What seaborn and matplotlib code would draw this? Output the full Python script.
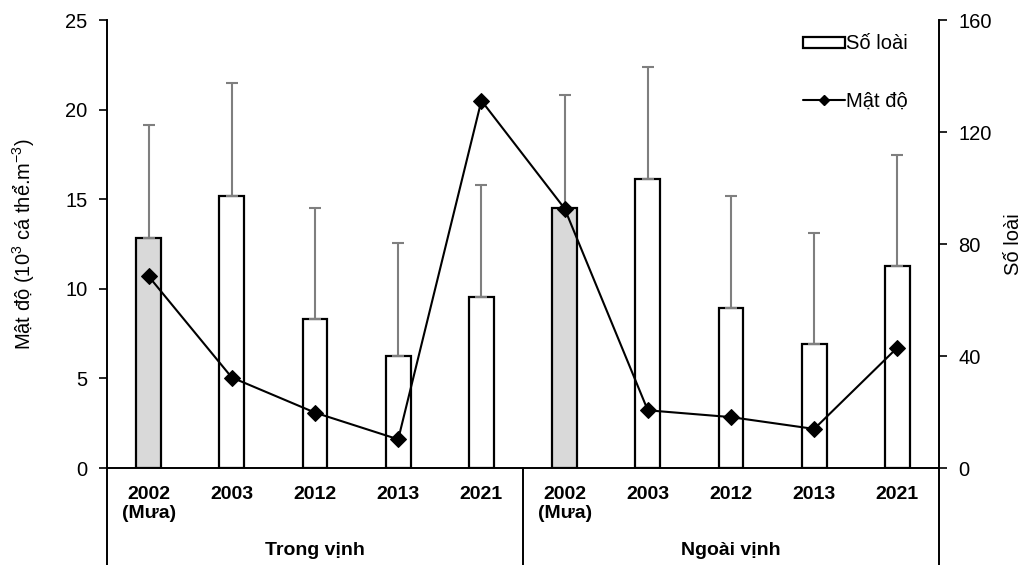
import numpy as np
import pandas as pd
import matplotlib
matplotlib.use("Agg")
import matplotlib.pyplot as plt
import seaborn as sns
from matplotlib.patches import Patch
from matplotlib.lines import Line2D

# ---- data ----
groups = ["Trong vịnh", "Ngoài vịnh"]
years = ["2002\n(Mưa)", "2003", "2012", "2013", "2021"]
so_loai_trong = [82.3, 97.2, 53.2, 40.1, 61.0]
so_loai_ngoai = [93.0, 103.3, 57.1, 44.2, 72.0]
so_loai_err_trong = [40.1, 40.2, 39.8, 40.1, 40.0]
so_loai_err_ngoai = [40.3, 39.9, 40.1, 39.9, 39.9]
mat_do_trong = [10.7, 5.05, 3.09, 1.6, 20.5]
mat_do_ngoai = [14.48, 3.22, 2.84, 2.18, 6.72]

sns.set_theme(style="white")
plt.rcParams["font.family"] = ["Liberation Sans", "DejaVu Sans"]
plt.rcParams["mathtext.fontset"] = "custom"
plt.rcParams["mathtext.rm"] = "Liberation Sans"
plt.rcParams["mathtext.it"] = "Liberation Sans"
plt.rcParams["mathtext.default"] = "regular"
plt.rcParams["text.color"] = "black"
plt.rcParams["axes.labelcolor"] = "black"

FS = 14.5

keys = [f"{g} {y}" for g in groups for y in years]
labels = years + years
so_loai = so_loai_trong + so_loai_ngoai
so_loai_err = so_loai_err_trong + so_loai_err_ngoai
mat_do = mat_do_trong + mat_do_ngoai
df = pd.DataFrame({"key": keys, "so_loai": so_loai, "err": so_loai_err,
                   "mat_do": mat_do, "pos": np.arange(len(keys))})
colors = {k: ("#d9d9d9" if k.endswith("(Mưa)") else "white") for k in keys}

fig = plt.figure(figsize=(10.28, 5.65), dpi=100)
ax = fig.add_axes([107/1028, 1-468/565, (939-107)/1028, (468-20)/565])
ax2 = ax.twinx()

# bars on right axis (Số loài)
sns.barplot(data=df, x="key", y="so_loai", hue="key", order=keys, palette=colors,
            legend=False, edgecolor="black", linewidth=1.6, width=0.3, ax=ax2,
            errorbar=None)
ax2.errorbar(df["pos"], df["so_loai"], yerr=[np.zeros(len(df)), df["err"]],
             fmt="none", ecolor="#7f7f7f", elinewidth=1.5, capsize=4, capthick=1.5,
             zorder=1)
# line on left axis (Mật độ)
sns.lineplot(data=df, x="pos", y="mat_do", ax=ax, color="black", linewidth=1.5,
             marker="D", markersize=8, markeredgecolor="black", zorder=5)

ax.set_zorder(ax2.get_zorder() + 1)
ax.patch.set_visible(False)

ax.set_xlim(-0.5, len(keys) - 0.5)
ax2.set_xlim(-0.5, len(keys) - 0.5)
ax.set_ylim(0, 25)
ax2.set_ylim(0, 160)
ax.set_yticks(np.arange(0, 26, 5))
ax2.set_yticks(np.arange(0, 161, 40))
ax.set_xticks(np.arange(len(keys)))
ax.set_xticklabels(labels, fontweight="bold", fontsize=FS - 0.5, linespacing=1.15)
ax.tick_params(axis="x", length=0, pad=13, colors="black")
ax.tick_params(axis="y", direction="out", length=6, width=1.2, labelsize=FS,
               left=True, colors="black", pad=8)
ax2.tick_params(axis="y", direction="out", length=6, width=1.2, labelsize=FS,
                right=True, colors="black", pad=8)
ax2.set_xlabel("")
ax.set_xlabel("")
ax.set_ylabel("Mật độ (10$^3$ cá thể.m$^{-3}$)", fontsize=FS, labelpad=21)
ax2.set_ylabel("Số loài", fontsize=FS, labelpad=9)

for a in (ax, ax2):
    a.spines["top"].set_visible(False)
    for s in ("left", "right", "bottom"):
        a.spines[s].set_linewidth(1.4)
        a.spines[s].set_color("black")
    a.grid(False)
ax.spines["right"].set_visible(False)
ax2.spines["left"].set_visible(False)
ax2.spines["bottom"].set_visible(False)

# multi-level category separators
trans = ax.get_xaxis_transform()
for xb in (-0.5, 4.5, 9.5):
    ax.plot([xb, xb], [0, -0.3], transform=trans, color="black", lw=1.4,
            clip_on=False)
for gi, g in enumerate(groups):
    ax.text(gi * 5 + 2, -0.185, g, transform=trans, ha="center", va="center",
            fontsize=FS - 0.5, fontweight="bold")

handles = [Patch(facecolor="white", edgecolor="black", linewidth=1.6),
           Line2D([0], [0], color="black", lw=1.5, marker="D", markersize=5)]
leg = ax.legend(handles, ["Số loài", "Mật độ"], loc="upper left",
                bbox_to_anchor=(0.8365, 0.968), frameon=False, fontsize=FS,
                labelspacing=1.9, handlelength=2.1, handletextpad=0.05,
                handleheight=0.45, borderpad=0, borderaxespad=0)

fig.savefig("out.png", dpi=100)
